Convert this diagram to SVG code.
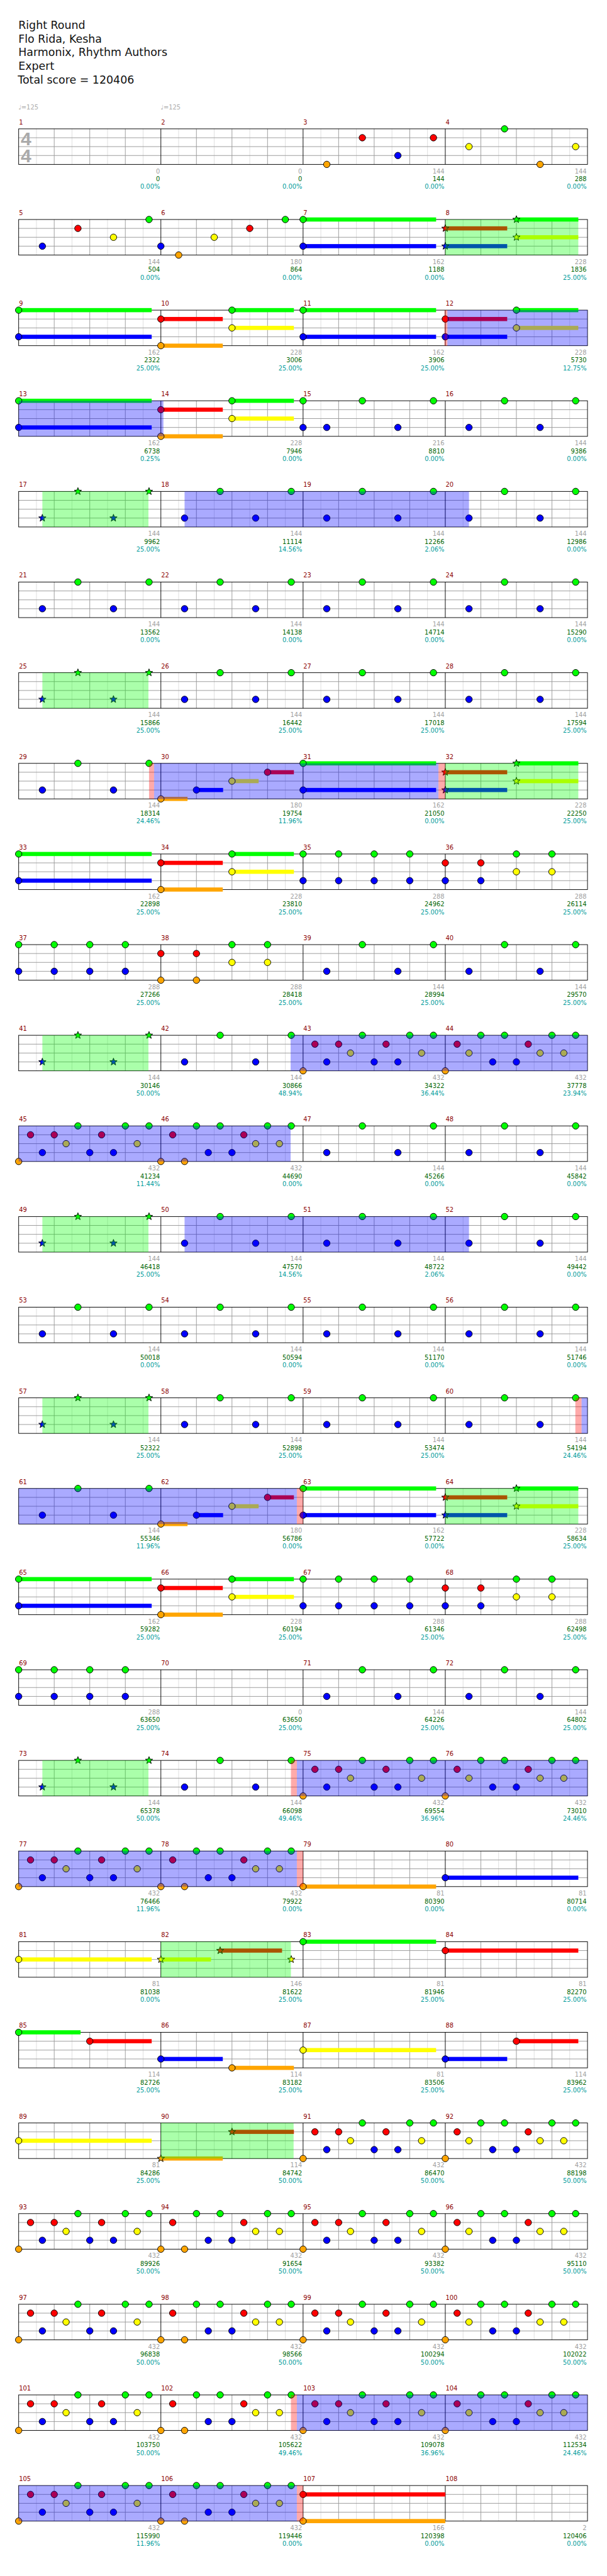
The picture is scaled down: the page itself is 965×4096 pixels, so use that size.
<svg xmlns="http://www.w3.org/2000/svg" width="965" height="4096" viewBox="0 0 965 4096">
<style>
text{font-family:"DejaVu Sans","Liberation Sans",sans-serif}
.t{font-size:18.5px;fill:#111}
.mn{font-size:10.5px;fill:#8b0000}
.a{font-size:10.5px;fill:#a0a0a0;text-anchor:end}
.c{font-size:10.5px;fill:#006400;text-anchor:end}
.p{font-size:10.5px;fill:#009b9b;text-anchor:end}
.tp{font-size:10.5px;fill:#aaa}
.ts{font-family:"Liberation Sans",sans-serif;font-weight:bold;font-size:32px;fill:#aaa}
.n{stroke:#000;stroke-width:1}
.gz{fill:#00ff00;fill-opacity:.333}
.bz{fill:#0000ff;fill-opacity:.333}
.pz{fill:#ff0000;fill-opacity:.333}
</style>
<defs>
<circle id="g" class="n" r="5.5" fill="#00ff00"/>
<circle id="r" class="n" r="5.5" fill="#ff0000"/>
<circle id="y" class="n" r="5.5" fill="#ffff00"/>
<circle id="b" class="n" r="5.5" fill="#0000ff"/>
<circle id="o" class="n" r="5.5" fill="#ffa500"/>
<path id="sg" class="n" fill="#00ff00" d="M0,-6.5L1.59,-2.18 6.18,-2.01 2.57,0.83 3.82,5.26 0,2.7 -3.82,5.26 -2.57,0.83 -6.18,-2.01 -1.59,-2.18Z"/>
<path id="sr" class="n" fill="#ff0000" d="M0,-6.5L1.59,-2.18 6.18,-2.01 2.57,0.83 3.82,5.26 0,2.7 -3.82,5.26 -2.57,0.83 -6.18,-2.01 -1.59,-2.18Z"/>
<path id="sy" class="n" fill="#ffff00" d="M0,-6.5L1.59,-2.18 6.18,-2.01 2.57,0.83 3.82,5.26 0,2.7 -3.82,5.26 -2.57,0.83 -6.18,-2.01 -1.59,-2.18Z"/>
<path id="sb" class="n" fill="#0000ff" d="M0,-6.5L1.59,-2.18 6.18,-2.01 2.57,0.83 3.82,5.26 0,2.7 -3.82,5.26 -2.57,0.83 -6.18,-2.01 -1.59,-2.18Z"/>
<path id="so" class="n" fill="#ffa500" d="M0,-6.5L1.59,-2.18 6.18,-2.01 2.57,0.83 3.82,5.26 0,2.7 -3.82,5.26 -2.57,0.83 -6.18,-2.01 -1.59,-2.18Z"/>
<g id="staff" fill="none" stroke-width="1">
<path stroke="#dddddd" d="M61.5,0V60M121.5,0V60M181.5,0V60M241.5,0V60M301.5,0V60M361.5,0V60M421.5,0V60M481.5,0V60M541.5,0V60M601.5,0V60M661.5,0V60M721.5,0V60M781.5,0V60M841.5,0V60M901.5,0V60M961.5,0V60"/>
<path stroke="#999999" d="M31.5,15H991.5M31.5,30H991.5M31.5,45H991.5M91.5,0V60M151.5,0V60M211.5,0V60M331.5,0V60M391.5,0V60M451.5,0V60M571.5,0V60M631.5,0V60M691.5,0V60M811.5,0V60M871.5,0V60M931.5,0V60"/>
<path stroke="#000" d="M271.5,0V60M511.5,0V60M751.5,0V60"/>
<rect x="31.5" y="0" width="960" height="60" stroke="#000"/>
</g>
<g id="pA"><use href="#b" x="40" y="45"/><use href="#g" x="100"/><use href="#b" x="160" y="45"/><use href="#g" x="220"/></g>
<g id="p3"><use href="#o" x="40" y="60"/><use href="#r" x="100" y="15"/><use href="#b" x="160" y="45"/><use href="#r" x="220" y="15"/></g>
<g id="p4"><use href="#y" x="40" y="30"/><use href="#g" x="100"/><use href="#o" x="160" y="60"/><use href="#y" x="220" y="30"/></g>
<g id="p5"><use href="#b" x="40" y="45"/><use href="#r" x="100" y="15"/><use href="#y" x="160" y="30"/><use href="#g" x="220"/></g>
<g id="p6"><use href="#b" y="45"/><use href="#o" x="30" y="60"/><use href="#y" x="90" y="30"/><use href="#r" x="150" y="15"/><use href="#g" x="210"/></g>
<g id="pL2"><rect x="0" y="-3.5" width="224.5" height="7" fill="#00ff00"/><rect x="0" y="41.5" width="224.5" height="7" fill="#0000ff"/><use href="#g"/><use href="#b" y="45"/></g>
<g id="pS8"><rect x="0" y="11.5" width="104.5" height="7" fill="#ff0000"/><rect x="0" y="41.5" width="104.5" height="7" fill="#0000ff"/><rect x="120" y="-3.5" width="104.5" height="7" fill="#00ff00"/><rect x="120" y="26.5" width="104.5" height="7" fill="#ffff00"/><use href="#sr" y="15"/><use href="#sb" y="45"/><use href="#sg" x="120"/><use href="#sy" x="120" y="30"/></g>
<g id="pC8"><rect x="0" y="11.5" width="104.5" height="7" fill="#ff0000"/><rect x="0" y="41.5" width="104.5" height="7" fill="#0000ff"/><rect x="120" y="-3.5" width="104.5" height="7" fill="#00ff00"/><rect x="120" y="26.5" width="104.5" height="7" fill="#ffff00"/><use href="#r" y="15"/><use href="#b" y="45"/><use href="#g" x="120"/><use href="#y" x="120" y="30"/></g>
<g id="p10"><rect x="0" y="11.5" width="104.5" height="7" fill="#ff0000"/><rect x="0" y="56.5" width="104.5" height="7" fill="#ffa500"/><rect x="120" y="-3.5" width="104.5" height="7" fill="#00ff00"/><rect x="120" y="26.5" width="104.5" height="7" fill="#ffff00"/><use href="#r" y="15"/><use href="#o" y="60"/><use href="#g" x="120"/><use href="#y" x="120" y="30"/></g>
<g id="p15"><use href="#pA"/><use href="#g"/><use href="#b" y="45"/></g>
<g id="pS17"><use href="#sb" x="40" y="45"/><use href="#sg" x="100"/><use href="#sb" x="160" y="45"/><use href="#sg" x="220"/></g>
<g id="p30"><rect x="0" y="56.5" width="45" height="7" fill="#ffa500"/><rect x="60" y="41.5" width="45" height="7" fill="#0000ff"/><rect x="120" y="26.5" width="45" height="7" fill="#ffff00"/><rect x="180" y="11.5" width="44.5" height="7" fill="#ff0000"/><use href="#o" y="60"/><use href="#b" x="60" y="45"/><use href="#y" x="120" y="30"/><use href="#r" x="180" y="15"/></g>
<g id="p35"><use href="#g"/><use href="#b" y="45"/><use href="#g" x="60"/><use href="#b" x="60" y="45"/><use href="#g" x="120"/><use href="#b" x="120" y="45"/><use href="#g" x="180"/><use href="#b" x="180" y="45"/></g>
<g id="p36"><use href="#r" y="15"/><use href="#b" y="45"/><use href="#r" x="60" y="15"/><use href="#b" x="60" y="45"/><use href="#g" x="120"/><use href="#y" x="120" y="30"/><use href="#g" x="180"/><use href="#y" x="180" y="30"/></g>
<g id="p38"><use href="#r" y="15"/><use href="#o" y="60"/><use href="#r" x="60" y="15"/><use href="#o" x="60" y="60"/><use href="#g" x="120"/><use href="#y" x="120" y="30"/><use href="#g" x="180"/><use href="#y" x="180" y="30"/></g>
<g id="T1"><use href="#o" y="60"/><use href="#r" x="20" y="15"/><use href="#b" x="40" y="45"/><use href="#r" x="60" y="15"/><use href="#y" x="80" y="30"/><use href="#g" x="100"/><use href="#b" x="120" y="45"/><use href="#r" x="140" y="15"/><use href="#b" x="160" y="45"/><use href="#g" x="180"/><use href="#y" x="200" y="30"/><use href="#g" x="220"/></g>
<g id="T2"><use href="#o" y="60"/><use href="#r" x="20" y="15"/><use href="#y" x="40" y="30"/><use href="#g" x="60"/><use href="#b" x="80" y="45"/><use href="#g" x="100"/><use href="#b" x="120" y="45"/><use href="#r" x="140" y="15"/><use href="#y" x="160" y="30"/><use href="#g" x="180"/><use href="#y" x="200" y="30"/><use href="#g" x="220"/></g>
<g id="T4"><use href="#o" y="60"/><use href="#r" x="20" y="15"/><use href="#o" x="40" y="60"/><use href="#g" x="60"/><use href="#b" x="80" y="45"/><use href="#g" x="100"/><use href="#b" x="120" y="45"/><use href="#r" x="140" y="15"/><use href="#y" x="160" y="30"/><use href="#g" x="180"/><use href="#y" x="200" y="30"/><use href="#g" x="220"/></g>
<g id="p79"><rect x="0" y="56.5" width="224.5" height="7" fill="#ffa500"/><use href="#o" y="60"/></g>
<g id="p80"><rect x="0" y="41.5" width="224.5" height="7" fill="#0000ff"/><use href="#b" y="45"/></g>
<g id="p81"><rect x="0" y="26.5" width="224.5" height="7" fill="#ffff00"/><use href="#y" y="30"/></g>
<g id="p82"><rect x="0" y="26.5" width="84.5" height="7" fill="#ffff00"/><rect x="100" y="11.5" width="104.5" height="7" fill="#ff0000"/><use href="#sy" y="30"/><use href="#sr" x="100" y="15"/><use href="#sy" x="220" y="30"/></g>
<g id="p83"><rect x="0" y="-3.5" width="224.5" height="7" fill="#00ff00"/><use href="#g"/></g>
<g id="p84"><rect x="0" y="11.5" width="224.5" height="7" fill="#ff0000"/><use href="#r" y="15"/></g>
<g id="p85"><rect x="0" y="-3.5" width="104.5" height="7" fill="#00ff00"/><rect x="120" y="11.5" width="104.5" height="7" fill="#ff0000"/><use href="#g"/><use href="#r" x="120" y="15"/></g>
<g id="p86"><rect x="0" y="41.5" width="104.5" height="7" fill="#0000ff"/><rect x="120" y="56.5" width="104.5" height="7" fill="#ffa500"/><use href="#b" y="45"/><use href="#o" x="120" y="60"/></g>
<g id="p88"><rect x="0" y="41.5" width="104.5" height="7" fill="#0000ff"/><rect x="120" y="11.5" width="104.5" height="7" fill="#ff0000"/><use href="#b" y="45"/><use href="#r" x="120" y="15"/></g>
<g id="p90"><rect x="0" y="56.5" width="104.5" height="7" fill="#ffa500"/><rect x="120" y="11.5" width="104.5" height="7" fill="#ff0000"/><use href="#so" y="60"/><use href="#sr" x="120" y="15"/></g>
<g id="p107"><rect x="0" y="11.5" width="240" height="7" fill="#ff0000"/><rect x="0" y="56.5" width="240" height="7" fill="#ffa500"/><use href="#r" y="15"/><use href="#o" y="60"/></g>
</defs>
<g transform="scale(0.942)">
<rect x="0" y="0" width="1024" height="4348" fill="#fff"/>
<g id="header">
<text class="t" x="31" y="49">Right Round</text>
<text class="t" x="31" y="72">Flo Rida, Kesha</text>
<text class="t" x="31" y="95">Harmonix, Rhythm Authors</text>
<text class="t" x="31" y="118">Expert</text>
<text class="t" x="30" y="141">Total score = 120406</text>
</g>

<g id="row1" transform="translate(0,217.5)">
<use href="#staff"/>
<text class="tp" x="31" y="-32.5">♩=125</text><text class="tp" x="271" y="-32.5">♩=125</text>
<text class="ts" x="35" y="27.5">4</text><text class="ts" x="35" y="56.5">4</text>
<text class="mn" x="32" y="-7.5">1</text><text class="mn" x="272" y="-7.5">2</text><text class="mn" x="512" y="-7.5">3</text><text class="mn" x="752" y="-7.5">4</text>
<use href="#p3" x="511.5"/><use href="#p4" x="751.5"/>
<text class="a" x="270" y="75">0</text><text class="c" x="270" y="88.5">0</text><text class="p" x="270" y="101.5">0.00%</text>
<text class="a" x="510" y="75">0</text><text class="c" x="510" y="88.5">0</text><text class="p" x="510" y="101.5">0.00%</text>
<text class="a" x="750" y="75">144</text><text class="c" x="750" y="88.5">144</text><text class="p" x="750" y="101.5">0.00%</text>
<text class="a" x="990" y="75">144</text><text class="c" x="990" y="88.5">288</text><text class="p" x="990" y="101.5">0.00%</text>
</g>

<g id="row2" transform="translate(0,370.5)">
<use href="#staff"/>
<text class="mn" x="32" y="-7.5">5</text><text class="mn" x="272" y="-7.5">6</text><text class="mn" x="512" y="-7.5">7</text><text class="mn" x="752" y="-7.5">8</text>
<use href="#p5" x="31.5"/><use href="#p6" x="271.5"/><use href="#pL2" x="511.5"/><use href="#pS8" x="751.5"/>
<rect class="gz" x="751.5" y="0" width="224.5" height="60"/>
<text class="a" x="270" y="75">144</text><text class="c" x="270" y="88.5">504</text><text class="p" x="270" y="101.5">0.00%</text>
<text class="a" x="510" y="75">180</text><text class="c" x="510" y="88.5">864</text><text class="p" x="510" y="101.5">0.00%</text>
<text class="a" x="750" y="75">162</text><text class="c" x="750" y="88.5">1188</text><text class="p" x="750" y="101.5">0.00%</text>
<text class="a" x="990" y="75">228</text><text class="c" x="990" y="88.5">1836</text><text class="p" x="990" y="101.5">25.00%</text>
</g>

<g id="row3" transform="translate(0,523.5)">
<use href="#staff"/>
<text class="mn" x="32" y="-7.5">9</text><text class="mn" x="272" y="-7.5">10</text><text class="mn" x="512" y="-7.5">11</text><text class="mn" x="752" y="-7.5">12</text>
<use href="#pL2" x="31.5"/><use href="#p10" x="271.5"/><use href="#pL2" x="511.5"/><use href="#pC8" x="751.5"/>
<rect class="pz" x="750" y="0" width="5" height="60"/><rect class="bz" x="755" y="0" width="236.5" height="60"/>
<text class="a" x="270" y="75">162</text><text class="c" x="270" y="88.5">2322</text><text class="p" x="270" y="101.5">25.00%</text>
<text class="a" x="510" y="75">228</text><text class="c" x="510" y="88.5">3006</text><text class="p" x="510" y="101.5">25.00%</text>
<text class="a" x="750" y="75">162</text><text class="c" x="750" y="88.5">3906</text><text class="p" x="750" y="101.5">25.00%</text>
<text class="a" x="990" y="75">228</text><text class="c" x="990" y="88.5">5730</text><text class="p" x="990" y="101.5">12.75%</text>
</g>

<g id="row4" transform="translate(0,676.5)">
<use href="#staff"/>
<text class="mn" x="32" y="-7.5">13</text><text class="mn" x="272" y="-7.5">14</text><text class="mn" x="512" y="-7.5">15</text><text class="mn" x="752" y="-7.5">16</text>
<use href="#pL2" x="31.5"/><use href="#p10" x="271.5"/><use href="#p15" x="511.5"/><use href="#pA" x="751.5"/>
<rect class="bz" x="31.5" y="0" width="244.3" height="60"/>
<text class="a" x="270" y="75">162</text><text class="c" x="270" y="88.5">6738</text><text class="p" x="270" y="101.5">0.25%</text>
<text class="a" x="510" y="75">228</text><text class="c" x="510" y="88.5">7946</text><text class="p" x="510" y="101.5">0.00%</text>
<text class="a" x="750" y="75">216</text><text class="c" x="750" y="88.5">8810</text><text class="p" x="750" y="101.5">0.00%</text>
<text class="a" x="990" y="75">144</text><text class="c" x="990" y="88.5">9386</text><text class="p" x="990" y="101.5">0.00%</text>
</g>

<g id="row5" transform="translate(0,829.5)">
<use href="#staff"/>
<text class="mn" x="32" y="-7.5">17</text><text class="mn" x="272" y="-7.5">18</text><text class="mn" x="512" y="-7.5">19</text><text class="mn" x="752" y="-7.5">20</text>
<use href="#pS17" x="31.5"/><use href="#pA" x="271.5"/><use href="#pA" x="511.5"/><use href="#pA" x="751.5"/>
<rect class="gz" x="71.5" y="0" width="179" height="60"/><rect class="bz" x="311.5" y="0" width="480" height="60"/>
<text class="a" x="270" y="75">144</text><text class="c" x="270" y="88.5">9962</text><text class="p" x="270" y="101.5">25.00%</text>
<text class="a" x="510" y="75">144</text><text class="c" x="510" y="88.5">11114</text><text class="p" x="510" y="101.5">14.56%</text>
<text class="a" x="750" y="75">144</text><text class="c" x="750" y="88.5">12266</text><text class="p" x="750" y="101.5">2.06%</text>
<text class="a" x="990" y="75">144</text><text class="c" x="990" y="88.5">12986</text><text class="p" x="990" y="101.5">0.00%</text>
</g>

<g id="row6" transform="translate(0,982.5)">
<use href="#staff"/>
<text class="mn" x="32" y="-7.5">21</text><text class="mn" x="272" y="-7.5">22</text><text class="mn" x="512" y="-7.5">23</text><text class="mn" x="752" y="-7.5">24</text>
<use href="#pA" x="31.5"/><use href="#pA" x="271.5"/><use href="#pA" x="511.5"/><use href="#pA" x="751.5"/>
<text class="a" x="270" y="75">144</text><text class="c" x="270" y="88.5">13562</text><text class="p" x="270" y="101.5">0.00%</text>
<text class="a" x="510" y="75">144</text><text class="c" x="510" y="88.5">14138</text><text class="p" x="510" y="101.5">0.00%</text>
<text class="a" x="750" y="75">144</text><text class="c" x="750" y="88.5">14714</text><text class="p" x="750" y="101.5">0.00%</text>
<text class="a" x="990" y="75">144</text><text class="c" x="990" y="88.5">15290</text><text class="p" x="990" y="101.5">0.00%</text>
</g>

<g id="row7" transform="translate(0,1135.5)">
<use href="#staff"/>
<text class="mn" x="32" y="-7.5">25</text><text class="mn" x="272" y="-7.5">26</text><text class="mn" x="512" y="-7.5">27</text><text class="mn" x="752" y="-7.5">28</text>
<use href="#pS17" x="31.5"/><use href="#pA" x="271.5"/><use href="#pA" x="511.5"/><use href="#pA" x="751.5"/>
<rect class="gz" x="71.5" y="0" width="179" height="60"/>
<text class="a" x="270" y="75">144</text><text class="c" x="270" y="88.5">15866</text><text class="p" x="270" y="101.5">25.00%</text>
<text class="a" x="510" y="75">144</text><text class="c" x="510" y="88.5">16442</text><text class="p" x="510" y="101.5">25.00%</text>
<text class="a" x="750" y="75">144</text><text class="c" x="750" y="88.5">17018</text><text class="p" x="750" y="101.5">25.00%</text>
<text class="a" x="990" y="75">144</text><text class="c" x="990" y="88.5">17594</text><text class="p" x="990" y="101.5">25.00%</text>
</g>

<g id="row8" transform="translate(0,1288.5)">
<use href="#staff"/>
<text class="mn" x="32" y="-7.5">29</text><text class="mn" x="272" y="-7.5">30</text><text class="mn" x="512" y="-7.5">31</text><text class="mn" x="752" y="-7.5">32</text>
<use href="#pA" x="31.5"/><use href="#p30" x="271.5"/><use href="#pL2" x="511.5"/><use href="#pS8" x="751.5"/>
<rect class="pz" x="251.5" y="0" width="8.5" height="60"/><rect class="bz" x="260" y="0" width="480" height="60"/><rect class="pz" x="740" y="0" width="11.5" height="60"/><rect class="gz" x="751.5" y="0" width="224.5" height="60"/>
<text class="a" x="270" y="75">144</text><text class="c" x="270" y="88.5">18314</text><text class="p" x="270" y="101.5">24.46%</text>
<text class="a" x="510" y="75">180</text><text class="c" x="510" y="88.5">19754</text><text class="p" x="510" y="101.5">11.96%</text>
<text class="a" x="750" y="75">162</text><text class="c" x="750" y="88.5">21050</text><text class="p" x="750" y="101.5">0.00%</text>
<text class="a" x="990" y="75">228</text><text class="c" x="990" y="88.5">22250</text><text class="p" x="990" y="101.5">25.00%</text>
</g>

<g id="row9" transform="translate(0,1441.5)">
<use href="#staff"/>
<text class="mn" x="32" y="-7.5">33</text><text class="mn" x="272" y="-7.5">34</text><text class="mn" x="512" y="-7.5">35</text><text class="mn" x="752" y="-7.5">36</text>
<use href="#pL2" x="31.5"/><use href="#p10" x="271.5"/><use href="#p35" x="511.5"/><use href="#p36" x="751.5"/>
<text class="a" x="270" y="75">162</text><text class="c" x="270" y="88.5">22898</text><text class="p" x="270" y="101.5">25.00%</text>
<text class="a" x="510" y="75">228</text><text class="c" x="510" y="88.5">23810</text><text class="p" x="510" y="101.5">25.00%</text>
<text class="a" x="750" y="75">288</text><text class="c" x="750" y="88.5">24962</text><text class="p" x="750" y="101.5">25.00%</text>
<text class="a" x="990" y="75">288</text><text class="c" x="990" y="88.5">26114</text><text class="p" x="990" y="101.5">25.00%</text>
</g>

<g id="row10" transform="translate(0,1594.5)">
<use href="#staff"/>
<text class="mn" x="32" y="-7.5">37</text><text class="mn" x="272" y="-7.5">38</text><text class="mn" x="512" y="-7.5">39</text><text class="mn" x="752" y="-7.5">40</text>
<use href="#p35" x="31.5"/><use href="#p38" x="271.5"/><use href="#pA" x="511.5"/><use href="#pA" x="751.5"/>
<text class="a" x="270" y="75">288</text><text class="c" x="270" y="88.5">27266</text><text class="p" x="270" y="101.5">25.00%</text>
<text class="a" x="510" y="75">288</text><text class="c" x="510" y="88.5">28418</text><text class="p" x="510" y="101.5">25.00%</text>
<text class="a" x="750" y="75">144</text><text class="c" x="750" y="88.5">28994</text><text class="p" x="750" y="101.5">25.00%</text>
<text class="a" x="990" y="75">144</text><text class="c" x="990" y="88.5">29570</text><text class="p" x="990" y="101.5">25.00%</text>
</g>

<g id="row11" transform="translate(0,1747.5)">
<use href="#staff"/>
<text class="mn" x="32" y="-7.5">41</text><text class="mn" x="272" y="-7.5">42</text><text class="mn" x="512" y="-7.5">43</text><text class="mn" x="752" y="-7.5">44</text>
<use href="#pS17" x="31.5"/><use href="#pA" x="271.5"/><use href="#T1" x="511.5"/><use href="#T2" x="751.5"/>
<rect class="gz" x="71.5" y="0" width="179" height="60"/><rect class="bz" x="490.5" y="0" width="501" height="60"/>
<text class="a" x="270" y="75">144</text><text class="c" x="270" y="88.5">30146</text><text class="p" x="270" y="101.5">50.00%</text>
<text class="a" x="510" y="75">144</text><text class="c" x="510" y="88.5">30866</text><text class="p" x="510" y="101.5">48.94%</text>
<text class="a" x="750" y="75">432</text><text class="c" x="750" y="88.5">34322</text><text class="p" x="750" y="101.5">36.44%</text>
<text class="a" x="990" y="75">432</text><text class="c" x="990" y="88.5">37778</text><text class="p" x="990" y="101.5">23.94%</text>
</g>

<g id="row12" transform="translate(0,1900.5)">
<use href="#staff"/>
<text class="mn" x="32" y="-7.5">45</text><text class="mn" x="272" y="-7.5">46</text><text class="mn" x="512" y="-7.5">47</text><text class="mn" x="752" y="-7.5">48</text>
<use href="#T1" x="31.5"/><use href="#T4" x="271.5"/><use href="#pA" x="511.5"/><use href="#pA" x="751.5"/>
<rect class="bz" x="31.5" y="0" width="459" height="60"/>
<text class="a" x="270" y="75">432</text><text class="c" x="270" y="88.5">41234</text><text class="p" x="270" y="101.5">11.44%</text>
<text class="a" x="510" y="75">432</text><text class="c" x="510" y="88.5">44690</text><text class="p" x="510" y="101.5">0.00%</text>
<text class="a" x="750" y="75">144</text><text class="c" x="750" y="88.5">45266</text><text class="p" x="750" y="101.5">0.00%</text>
<text class="a" x="990" y="75">144</text><text class="c" x="990" y="88.5">45842</text><text class="p" x="990" y="101.5">0.00%</text>
</g>

<g id="row13" transform="translate(0,2053.5)">
<use href="#staff"/>
<text class="mn" x="32" y="-7.5">49</text><text class="mn" x="272" y="-7.5">50</text><text class="mn" x="512" y="-7.5">51</text><text class="mn" x="752" y="-7.5">52</text>
<use href="#pS17" x="31.5"/><use href="#pA" x="271.5"/><use href="#pA" x="511.5"/><use href="#pA" x="751.5"/>
<rect class="gz" x="71.5" y="0" width="179" height="60"/><rect class="bz" x="311.5" y="0" width="480" height="60"/>
<text class="a" x="270" y="75">144</text><text class="c" x="270" y="88.5">46418</text><text class="p" x="270" y="101.5">25.00%</text>
<text class="a" x="510" y="75">144</text><text class="c" x="510" y="88.5">47570</text><text class="p" x="510" y="101.5">14.56%</text>
<text class="a" x="750" y="75">144</text><text class="c" x="750" y="88.5">48722</text><text class="p" x="750" y="101.5">2.06%</text>
<text class="a" x="990" y="75">144</text><text class="c" x="990" y="88.5">49442</text><text class="p" x="990" y="101.5">0.00%</text>
</g>

<g id="row14" transform="translate(0,2206.5)">
<use href="#staff"/>
<text class="mn" x="32" y="-7.5">53</text><text class="mn" x="272" y="-7.5">54</text><text class="mn" x="512" y="-7.5">55</text><text class="mn" x="752" y="-7.5">56</text>
<use href="#pA" x="31.5"/><use href="#pA" x="271.5"/><use href="#pA" x="511.5"/><use href="#pA" x="751.5"/>
<text class="a" x="270" y="75">144</text><text class="c" x="270" y="88.5">50018</text><text class="p" x="270" y="101.5">0.00%</text>
<text class="a" x="510" y="75">144</text><text class="c" x="510" y="88.5">50594</text><text class="p" x="510" y="101.5">0.00%</text>
<text class="a" x="750" y="75">144</text><text class="c" x="750" y="88.5">51170</text><text class="p" x="750" y="101.5">0.00%</text>
<text class="a" x="990" y="75">144</text><text class="c" x="990" y="88.5">51746</text><text class="p" x="990" y="101.5">0.00%</text>
</g>

<g id="row15" transform="translate(0,2359.5)">
<use href="#staff"/>
<text class="mn" x="32" y="-7.5">57</text><text class="mn" x="272" y="-7.5">58</text><text class="mn" x="512" y="-7.5">59</text><text class="mn" x="752" y="-7.5">60</text>
<use href="#pS17" x="31.5"/><use href="#pA" x="271.5"/><use href="#pA" x="511.5"/><use href="#pA" x="751.5"/>
<rect class="gz" x="71.5" y="0" width="179" height="60"/><rect class="pz" x="971" y="0" width="10.5" height="60"/><rect class="bz" x="981.5" y="0" width="10" height="60"/>
<text class="a" x="270" y="75">144</text><text class="c" x="270" y="88.5">52322</text><text class="p" x="270" y="101.5">25.00%</text>
<text class="a" x="510" y="75">144</text><text class="c" x="510" y="88.5">52898</text><text class="p" x="510" y="101.5">25.00%</text>
<text class="a" x="750" y="75">144</text><text class="c" x="750" y="88.5">53474</text><text class="p" x="750" y="101.5">25.00%</text>
<text class="a" x="990" y="75">144</text><text class="c" x="990" y="88.5">54194</text><text class="p" x="990" y="101.5">24.46%</text>
</g>

<g id="row16" transform="translate(0,2512.5)">
<use href="#staff"/>
<text class="mn" x="32" y="-7.5">61</text><text class="mn" x="272" y="-7.5">62</text><text class="mn" x="512" y="-7.5">63</text><text class="mn" x="752" y="-7.5">64</text>
<use href="#pA" x="31.5"/><use href="#p30" x="271.5"/><use href="#pL2" x="511.5"/><use href="#pS8" x="751.5"/>
<rect class="bz" x="31.5" y="0" width="469.5" height="60"/><rect class="pz" x="501" y="0" width="10.5" height="60"/><rect class="gz" x="751.5" y="0" width="224.5" height="60"/>
<text class="a" x="270" y="75">144</text><text class="c" x="270" y="88.5">55346</text><text class="p" x="270" y="101.5">11.96%</text>
<text class="a" x="510" y="75">180</text><text class="c" x="510" y="88.5">56786</text><text class="p" x="510" y="101.5">0.00%</text>
<text class="a" x="750" y="75">162</text><text class="c" x="750" y="88.5">57722</text><text class="p" x="750" y="101.5">0.00%</text>
<text class="a" x="990" y="75">228</text><text class="c" x="990" y="88.5">58634</text><text class="p" x="990" y="101.5">25.00%</text>
</g>

<g id="row17" transform="translate(0,2665.5)">
<use href="#staff"/>
<text class="mn" x="32" y="-7.5">65</text><text class="mn" x="272" y="-7.5">66</text><text class="mn" x="512" y="-7.5">67</text><text class="mn" x="752" y="-7.5">68</text>
<use href="#pL2" x="31.5"/><use href="#p10" x="271.5"/><use href="#p35" x="511.5"/><use href="#p36" x="751.5"/>
<text class="a" x="270" y="75">162</text><text class="c" x="270" y="88.5">59282</text><text class="p" x="270" y="101.5">25.00%</text>
<text class="a" x="510" y="75">228</text><text class="c" x="510" y="88.5">60194</text><text class="p" x="510" y="101.5">25.00%</text>
<text class="a" x="750" y="75">288</text><text class="c" x="750" y="88.5">61346</text><text class="p" x="750" y="101.5">25.00%</text>
<text class="a" x="990" y="75">288</text><text class="c" x="990" y="88.5">62498</text><text class="p" x="990" y="101.5">25.00%</text>
</g>

<g id="row18" transform="translate(0,2818.5)">
<use href="#staff"/>
<text class="mn" x="32" y="-7.5">69</text><text class="mn" x="272" y="-7.5">70</text><text class="mn" x="512" y="-7.5">71</text><text class="mn" x="752" y="-7.5">72</text>
<use href="#p35" x="31.5"/><use href="#pA" x="511.5"/><use href="#pA" x="751.5"/>
<text class="a" x="270" y="75">288</text><text class="c" x="270" y="88.5">63650</text><text class="p" x="270" y="101.5">25.00%</text>
<text class="a" x="510" y="75">0</text><text class="c" x="510" y="88.5">63650</text><text class="p" x="510" y="101.5">25.00%</text>
<text class="a" x="750" y="75">144</text><text class="c" x="750" y="88.5">64226</text><text class="p" x="750" y="101.5">25.00%</text>
<text class="a" x="990" y="75">144</text><text class="c" x="990" y="88.5">64802</text><text class="p" x="990" y="101.5">25.00%</text>
</g>

<g id="row19" transform="translate(0,2971.5)">
<use href="#staff"/>
<text class="mn" x="32" y="-7.5">73</text><text class="mn" x="272" y="-7.5">74</text><text class="mn" x="512" y="-7.5">75</text><text class="mn" x="752" y="-7.5">76</text>
<use href="#pS17" x="31.5"/><use href="#pA" x="271.5"/><use href="#T1" x="511.5"/><use href="#T2" x="751.5"/>
<rect class="gz" x="71.5" y="0" width="179" height="60"/><rect class="pz" x="491" y="0" width="10" height="60"/><rect class="bz" x="501" y="0" width="490.5" height="60"/>
<text class="a" x="270" y="75">144</text><text class="c" x="270" y="88.5">65378</text><text class="p" x="270" y="101.5">50.00%</text>
<text class="a" x="510" y="75">144</text><text class="c" x="510" y="88.5">66098</text><text class="p" x="510" y="101.5">49.46%</text>
<text class="a" x="750" y="75">432</text><text class="c" x="750" y="88.5">69554</text><text class="p" x="750" y="101.5">36.96%</text>
<text class="a" x="990" y="75">432</text><text class="c" x="990" y="88.5">73010</text><text class="p" x="990" y="101.5">24.46%</text>
</g>

<g id="row20" transform="translate(0,3124.5)">
<use href="#staff"/>
<text class="mn" x="32" y="-7.5">77</text><text class="mn" x="272" y="-7.5">78</text><text class="mn" x="512" y="-7.5">79</text><text class="mn" x="752" y="-7.5">80</text>
<use href="#T1" x="31.5"/><use href="#T4" x="271.5"/><use href="#p79" x="511.5"/><use href="#p80" x="751.5"/>
<rect class="bz" x="31.5" y="0" width="469.5" height="60"/><rect class="pz" x="501" y="0" width="10.5" height="60"/>
<text class="a" x="270" y="75">432</text><text class="c" x="270" y="88.5">76466</text><text class="p" x="270" y="101.5">11.96%</text>
<text class="a" x="510" y="75">432</text><text class="c" x="510" y="88.5">79922</text><text class="p" x="510" y="101.5">0.00%</text>
<text class="a" x="750" y="75">81</text><text class="c" x="750" y="88.5">80390</text><text class="p" x="750" y="101.5">0.00%</text>
<text class="a" x="990" y="75">81</text><text class="c" x="990" y="88.5">80714</text><text class="p" x="990" y="101.5">0.00%</text>
</g>

<g id="row21" transform="translate(0,3277.5)">
<use href="#staff"/>
<text class="mn" x="32" y="-7.5">81</text><text class="mn" x="272" y="-7.5">82</text><text class="mn" x="512" y="-7.5">83</text><text class="mn" x="752" y="-7.5">84</text>
<use href="#p81" x="31.5"/><use href="#p82" x="271.5"/><use href="#p83" x="511.5"/><use href="#p84" x="751.5"/>
<rect class="gz" x="271.5" y="0" width="219.5" height="60"/>
<text class="a" x="270" y="75">81</text><text class="c" x="270" y="88.5">81038</text><text class="p" x="270" y="101.5">0.00%</text>
<text class="a" x="510" y="75">146</text><text class="c" x="510" y="88.5">81622</text><text class="p" x="510" y="101.5">25.00%</text>
<text class="a" x="750" y="75">81</text><text class="c" x="750" y="88.5">81946</text><text class="p" x="750" y="101.5">25.00%</text>
<text class="a" x="990" y="75">81</text><text class="c" x="990" y="88.5">82270</text><text class="p" x="990" y="101.5">25.00%</text>
</g>

<g id="row22" transform="translate(0,3430.5)">
<use href="#staff"/>
<text class="mn" x="32" y="-7.5">85</text><text class="mn" x="272" y="-7.5">86</text><text class="mn" x="512" y="-7.5">87</text><text class="mn" x="752" y="-7.5">88</text>
<use href="#p85" x="31.5"/><use href="#p86" x="271.5"/><use href="#p81" x="511.5"/><use href="#p88" x="751.5"/>
<text class="a" x="270" y="75">114</text><text class="c" x="270" y="88.5">82726</text><text class="p" x="270" y="101.5">25.00%</text>
<text class="a" x="510" y="75">114</text><text class="c" x="510" y="88.5">83182</text><text class="p" x="510" y="101.5">25.00%</text>
<text class="a" x="750" y="75">81</text><text class="c" x="750" y="88.5">83506</text><text class="p" x="750" y="101.5">25.00%</text>
<text class="a" x="990" y="75">114</text><text class="c" x="990" y="88.5">83962</text><text class="p" x="990" y="101.5">25.00%</text>
</g>

<g id="row23" transform="translate(0,3583.5)">
<use href="#staff"/>
<text class="mn" x="32" y="-7.5">89</text><text class="mn" x="272" y="-7.5">90</text><text class="mn" x="512" y="-7.5">91</text><text class="mn" x="752" y="-7.5">92</text>
<use href="#p81" x="31.5"/><use href="#p90" x="271.5"/><use href="#T1" x="511.5"/><use href="#T2" x="751.5"/>
<rect class="gz" x="271.5" y="0" width="224" height="60"/>
<text class="a" x="270" y="75">81</text><text class="c" x="270" y="88.5">84286</text><text class="p" x="270" y="101.5">25.00%</text>
<text class="a" x="510" y="75">114</text><text class="c" x="510" y="88.5">84742</text><text class="p" x="510" y="101.5">50.00%</text>
<text class="a" x="750" y="75">432</text><text class="c" x="750" y="88.5">86470</text><text class="p" x="750" y="101.5">50.00%</text>
<text class="a" x="990" y="75">432</text><text class="c" x="990" y="88.5">88198</text><text class="p" x="990" y="101.5">50.00%</text>
</g>

<g id="row24" transform="translate(0,3736.5)">
<use href="#staff"/>
<text class="mn" x="32" y="-7.5">93</text><text class="mn" x="272" y="-7.5">94</text><text class="mn" x="512" y="-7.5">95</text><text class="mn" x="752" y="-7.5">96</text>
<use href="#T1" x="31.5"/><use href="#T4" x="271.5"/><use href="#T1" x="511.5"/><use href="#T2" x="751.5"/>
<text class="a" x="270" y="75">432</text><text class="c" x="270" y="88.5">89926</text><text class="p" x="270" y="101.5">50.00%</text>
<text class="a" x="510" y="75">432</text><text class="c" x="510" y="88.5">91654</text><text class="p" x="510" y="101.5">50.00%</text>
<text class="a" x="750" y="75">432</text><text class="c" x="750" y="88.5">93382</text><text class="p" x="750" y="101.5">50.00%</text>
<text class="a" x="990" y="75">432</text><text class="c" x="990" y="88.5">95110</text><text class="p" x="990" y="101.5">50.00%</text>
</g>

<g id="row25" transform="translate(0,3889.5)">
<use href="#staff"/>
<text class="mn" x="32" y="-7.5">97</text><text class="mn" x="272" y="-7.5">98</text><text class="mn" x="512" y="-7.5">99</text><text class="mn" x="752" y="-7.5">100</text>
<use href="#T1" x="31.5"/><use href="#T4" x="271.5"/><use href="#T1" x="511.5"/><use href="#T2" x="751.5"/>
<text class="a" x="270" y="75">432</text><text class="c" x="270" y="88.5">96838</text><text class="p" x="270" y="101.5">50.00%</text>
<text class="a" x="510" y="75">432</text><text class="c" x="510" y="88.5">98566</text><text class="p" x="510" y="101.5">50.00%</text>
<text class="a" x="750" y="75">432</text><text class="c" x="750" y="88.5">100294</text><text class="p" x="750" y="101.5">50.00%</text>
<text class="a" x="990" y="75">432</text><text class="c" x="990" y="88.5">102022</text><text class="p" x="990" y="101.5">50.00%</text>
</g>

<g id="row26" transform="translate(0,4042.5)">
<use href="#staff"/>
<text class="mn" x="32" y="-7.5">101</text><text class="mn" x="272" y="-7.5">102</text><text class="mn" x="512" y="-7.5">103</text><text class="mn" x="752" y="-7.5">104</text>
<use href="#T1" x="31.5"/><use href="#T4" x="271.5"/><use href="#T1" x="511.5"/><use href="#T2" x="751.5"/>
<rect class="pz" x="491" y="0" width="10" height="60"/><rect class="bz" x="501" y="0" width="490.5" height="60"/>
<text class="a" x="270" y="75">432</text><text class="c" x="270" y="88.5">103750</text><text class="p" x="270" y="101.5">50.00%</text>
<text class="a" x="510" y="75">432</text><text class="c" x="510" y="88.5">105622</text><text class="p" x="510" y="101.5">49.46%</text>
<text class="a" x="750" y="75">432</text><text class="c" x="750" y="88.5">109078</text><text class="p" x="750" y="101.5">36.96%</text>
<text class="a" x="990" y="75">432</text><text class="c" x="990" y="88.5">112534</text><text class="p" x="990" y="101.5">24.46%</text>
</g>

<g id="row27" transform="translate(0,4195.5)">
<use href="#staff"/>
<text class="mn" x="32" y="-7.5">105</text><text class="mn" x="272" y="-7.5">106</text><text class="mn" x="512" y="-7.5">107</text><text class="mn" x="752" y="-7.5">108</text>
<use href="#T1" x="31.5"/><use href="#T4" x="271.5"/><use href="#p107" x="511.5"/>
<rect class="bz" x="31.5" y="0" width="469.5" height="60"/><rect class="pz" x="501" y="0" width="10.5" height="60"/>
<text class="a" x="270" y="75">432</text><text class="c" x="270" y="88.5">115990</text><text class="p" x="270" y="101.5">11.96%</text>
<text class="a" x="510" y="75">432</text><text class="c" x="510" y="88.5">119446</text><text class="p" x="510" y="101.5">0.00%</text>
<text class="a" x="750" y="75">166</text><text class="c" x="750" y="88.5">120398</text><text class="p" x="750" y="101.5">0.00%</text>
<text class="a" x="990" y="75">2</text><text class="c" x="990" y="88.5">120406</text><text class="p" x="990" y="101.5">0.00%</text>
</g>
</g>
</svg>
